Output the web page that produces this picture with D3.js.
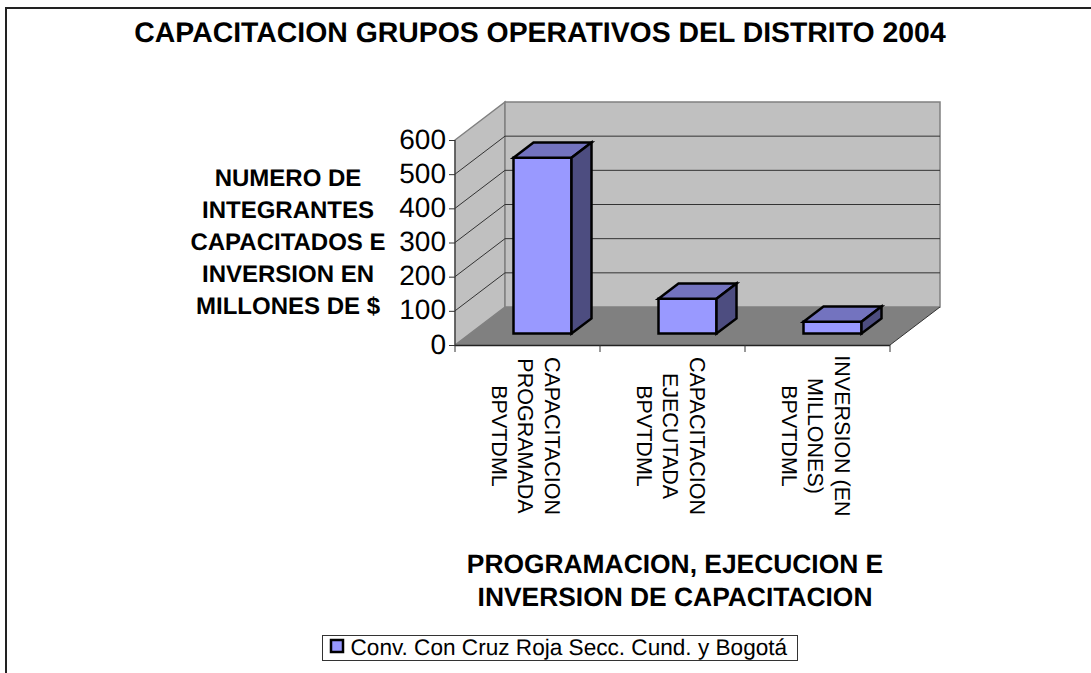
<!DOCTYPE html>
<html><head><meta charset="utf-8">
<script src="https://cdn.jsdelivr.net/npm/d3@7/dist/d3.min.js"></script>
<style>html,body{margin:0;padding:0;background:#fff}svg{display:block}text{font-family:"Liberation Sans",Arial,sans-serif;fill:#000;text-rendering:geometricPrecision}</style>
</head><body><svg id="c" width="1091" height="673"></svg>
<script>
const categories=[["CAPACITACION","PROGRAMADA","BPVTDML"],["CAPACITACION","EJECUTADA","BPVTDML"],["INVERSION (EN","MILLONES)","BPVTDML"]];
const values=[515,102,35];
const yTicks=[0,100,200,300,400,500,600];
const titleText="CAPACITACION GRUPOS OPERATIVOS DEL DISTRITO 2004";
const yTitle=["NUMERO DE","INTEGRANTES","CAPACITADOS E","INVERSION EN","MILLONES DE $"];
const xTitle=["PROGRAMACION, EJECUCION E","INVERSION DE CAPACITACION"];
const legendLabel="Conv. Con Cruz Roja Secc. Cund. y Bogotá";

const svg=d3.select("#c");
const x=d3.scaleBand().domain(d3.range(categories.length)).range([455,890]).paddingInner(0.6).paddingOuter(0.3);
const y=d3.scaleLinear().domain([0,600]).range([345,140]);
const dx=50,dy=-38,d0=0.3,d1=0.7;
const P=p=>"M"+p.map(a=>a.join(",")).join("L")+"Z";
const x0=x.range()[0],x1=x.range()[1];

// frame
svg.append("path").attr("d",`M6,673V8H1091`).attr("fill","none").attr("stroke","#222").attr("stroke-width",2);
// walls
svg.append("path").attr("d",P([[x0,y(0)],[x0,y(600)],[x0+dx,y(600)+dy],[x0+dx,y(0)+dy]])).attr("fill","#c0c0c0").attr("stroke","#808080").attr("stroke-width",1.5);
svg.append("path").attr("d",P([[x0+dx,y(0)+dy],[x0+dx,y(600)+dy],[x1+dx,y(600)+dy],[x1+dx,y(0)+dy]])).attr("fill","#c0c0c0").attr("stroke","#808080").attr("stroke-width",1.5);
svg.append("path").attr("d",P([[x0,y(0)],[x0+dx,y(0)+dy],[x1+dx,y(0)+dy],[x1,y(0)]])).attr("fill","#808080");
// gridlines
yTicks.filter(t=>t>0&&t<600).forEach(t=>{
  svg.append("path").attr("d",`M${x0},${y(t)}L${x0+dx},${y(t)+dy}L${x1+dx},${y(t)+dy}`).attr("fill","none").attr("stroke","#333").attr("stroke-width",1);
});
svg.append("path").attr("d",`M${x1},${y(0)}L${x1+dx},${y(0)+dy}`).attr("stroke","#333").attr("fill","none");
// axes
const ax=d3.axisLeft(y).tickValues(yTicks).tickSize(6).tickPadding(3);
const gy=svg.append("g").attr("transform",`translate(${x0},0)`).call(ax);
gy.selectAll("path,line").attr("stroke","#333");
gy.selectAll("text").style("font-size","28px").style("font-family",'"Liberation Sans"').attr("dy","0.29em");
gy.select(".domain").attr("d",`M0,${y(600)}V${y(0)}`);
svg.append("path").attr("d",`M${x0},${y(0)+.5}H${x1}`).attr("stroke","#222").attr("stroke-width",1.5);
d3.range(categories.length+1).forEach(i=>{
  const px=x0+(x1-x0)*i/categories.length;
  svg.append("line").attr("x1",px).attr("x2",px).attr("y1",y(0)).attr("y2",y(0)+7).attr("stroke","#333");
});
// bars
const bw=x.bandwidth();
const sx0=dx*d0,sy0=dy*d0,sx=dx*(d1-d0),sy=dy*(d1-d0);
values.forEach((v,i)=>{
  const l=x(i)+sx0,r=l+bw,b=y(0)+sy0,t=y(v)+sy0;
  const g=svg.append("g").attr("stroke","#000").attr("stroke-width",2.5).attr("stroke-linejoin","miter");
  g.append("path").attr("d",P([[l,t],[r,t],[r,b],[l,b]])).attr("fill","#9999ff");
  g.append("path").attr("d",P([[l,t],[l+sx,t+sy],[r+sx,t+sy],[r,t]])).attr("fill","#7373bf");
  g.append("path").attr("d",P([[r,t],[r+sx,t+sy],[r+sx,b+sy],[r,b]])).attr("fill","#4d4d80");
});
// category labels (rotated)
categories.forEach((c,i)=>{
  const cx=x0+(x1-x0)*(i+.5)/categories.length;
  c.forEach((ln,j)=>{
    const px=cx-1.5+(1-j)*26.7;
    svg.append("text").attr("transform",`translate(${px},436) rotate(90)`).attr("dy","0.36em").attr("text-anchor","middle").style("font-size","21.5px").text(ln);
  });
});
// title
svg.append("text").attr("x",540).attr("y",42).attr("text-anchor","middle").style("font-size","28.4px").style("font-weight","bold").text(titleText);
yTitle.forEach((t,i)=>svg.append("text").attr("x",288).attr("y",185.5+i*32.2).attr("text-anchor","middle").style("font-size","24px").style("font-weight","bold").text(t));
xTitle.forEach((t,i)=>svg.append("text").attr("x",675).attr("y",573+i*33).attr("text-anchor","middle").style("font-size","26.4px").style("font-weight","bold").text(t));
// legend
svg.append("rect").attr("x",322.5).attr("y",635.5).attr("width",475).attr("height",25).attr("fill","#fff").attr("stroke","#333");
svg.append("rect").attr("x",331).attr("y",640).attr("width",12).attr("height",12).attr("fill","#9999ff").attr("stroke","#000").attr("stroke-width",2.5);
svg.append("text").attr("x",350.5).attr("y",655).style("font-size","22.6px").text(legendLabel);
</script></body></html>
